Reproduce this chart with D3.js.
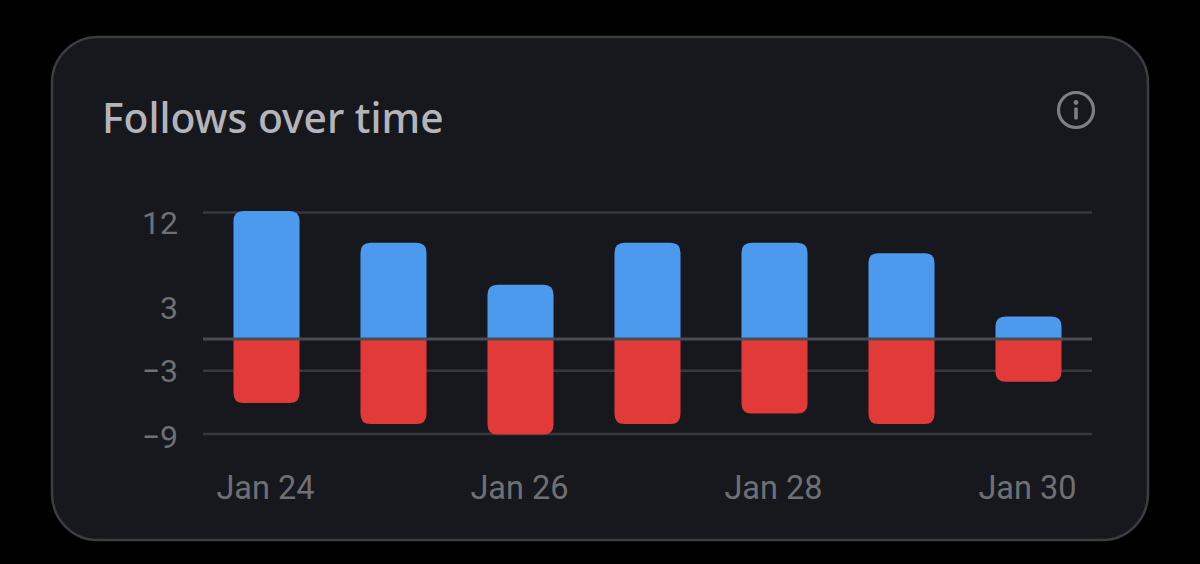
<!DOCTYPE html>
<html><head><meta charset="utf-8">
<style>html,body{margin:0;background:#000;overflow:hidden}svg{display:block}</style>
<script src="https://cdn.jsdelivr.net/npm/d3@7"></script></head><body>
<svg id="c" width="1200" height="564"></svg>
<script>
const categories = ["Jan 24","Jan 25","Jan 26","Jan 27","Jan 28","Jan 29","Jan 30"];
const follows = [12,9,5,9,9,8,2];
const unfollows = [-6,-8,-9,-8,-7,-8,-4];
const xTickLabels = ["Jan 24","Jan 26","Jan 28","Jan 30"];
const yTickValues = [12,3,-3,-9];
const gridValues = [12,-3,-9];
const titleText = "Follows over time";

const svg = d3.select("#c");
svg.append("rect").attr("width",1200).attr("height",564).attr("fill","#000");
svg.append("rect").attr("x",52).attr("y",37).attr("width",1096).attr("height",503).attr("rx",46)
  .attr("fill","#17181d").attr("stroke","#3c3d42").attr("stroke-width",2.5);

svg.append("text").attr("x",102).attr("y",133).attr("fill","#b4b5ba")
  .style("font","500 40.8px 'Noto Sans'").text(titleText);

const x = d3.scaleBand().domain(categories).range([203,1092]).paddingInner(0.48).paddingOuter(0.24);
const y = d3.scaleLinear().domain([12,-9]).range([212,433.6]);
const r = 10, overshoot = 1;
const barPath = (cx,v) => {
  const w = x.bandwidth(), l = cx, R = cx+w, y0 = y(0), s = v>0?1:-1, y1 = y(v)-s*overshoot;
  const d = d3.path();
  d.moveTo(l,y0); d.lineTo(l,y1+s*r); d.quadraticCurveTo(l,y1,l+r,y1);
  d.lineTo(R-r,y1); d.quadraticCurveTo(R,y1,R,y1+s*r); d.lineTo(R,y0); d.closePath();
  return d.toString();
};

// y axis: grid and labels
const gridAxis = d3.axisLeft(y).tickValues(gridValues).tickSize(-889).tickFormat("");
const grid = svg.append("g").attr("transform","translate(203,0)").call(gridAxis);
grid.select(".domain").remove();
grid.selectAll("line").attr("stroke","#37383d").attr("stroke-width",2.5);

const labelShift = v => v===12 ? 10 : v===-9 ? 3 : 0;
const yAxis = d3.axisLeft(y).tickValues(yTickValues).tickSize(0).tickPadding(0).tickFormat(d=>String(d).replace("-","\u2212"));
const ya = svg.append("g").attr("transform","translate(178,0)").call(yAxis);
ya.select(".domain").remove();
ya.selectAll("text").attr("fill","#6f7075").style("font","400 32px Roboto")
  .attr("dy","0.35em").attr("transform",d=>`translate(0,${labelShift(d)})`);

// bars
svg.append("g").selectAll("path").data(categories).join("path")
  .attr("d",(c,i)=>barPath(x(c),follows[i])).attr("fill","#4c9aed");
svg.append("g").selectAll("path").data(categories).join("path")
  .attr("d",(c,i)=>barPath(x(c),unfollows[i])).attr("fill","#e23a38");

// zero line
svg.append("line").attr("x1",203).attr("x2",1092).attr("y1",339).attr("y2",339)
  .attr("stroke","#4b4c52").attr("stroke-width",3);

// x axis
const xAxis = d3.axisBottom(x).tickValues(xTickLabels).tickSize(0).tickPadding(0);
const xa = svg.append("g").attr("transform","translate(-1,476)").call(xAxis);
xa.select(".domain").remove();
xa.selectAll("text").attr("fill","#6f7075").style("font","400 32.5px Roboto").attr("dy","0.71em");

// info icon
const info = svg.append("g").attr("transform","translate(1076,110)");
info.append("circle").attr("r",17.5).attr("fill","none").attr("stroke","#7e7f84").attr("stroke-width",3.2);
info.append("circle").attr("cy",-7.5).attr("r",2.4).attr("fill","#7e7f84");
info.append("rect").attr("x",-1.8).attr("y",-2.5).attr("width",3.6).attr("height",12).attr("rx",1).attr("fill","#7e7f84");
</script></body></html>
